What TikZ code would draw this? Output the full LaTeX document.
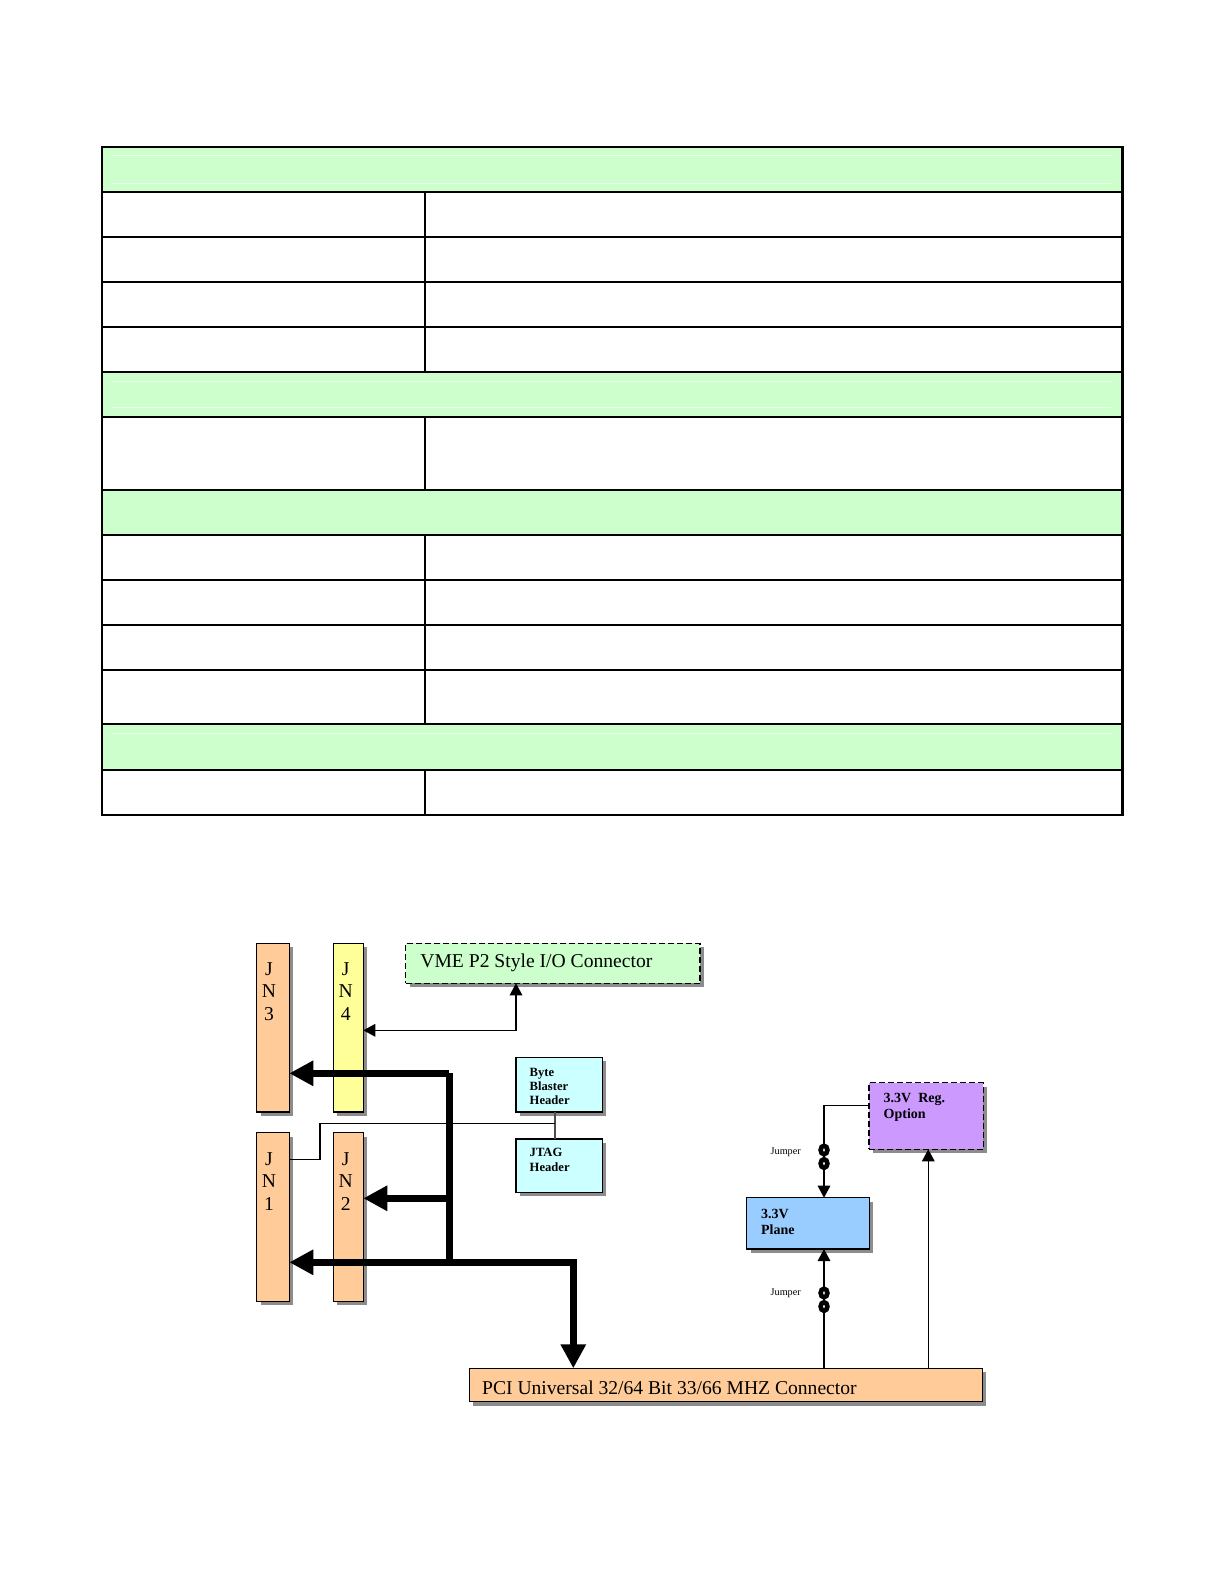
\documentclass[tikz,border=0pt]{standalone}
\usepackage{fontspec}
\setmainfont{Liberation Serif}
\usetikzlibrary{arrows.meta,shadows}
\definecolor{hdrgreen}{HTML}{CCFFCC}
\definecolor{faintline}{HTML}{E8FFE8}
\definecolor{jorange}{HTML}{FFCC99}
\definecolor{jyellow}{HTML}{FFFF99}
\definecolor{jcyan}{HTML}{CCFFFF}
\definecolor{jblue}{HTML}{99CCFF}
\definecolor{jpurple}{HTML}{CC99FF}
\definecolor{vmegreen}{HTML}{CCFFCC}
\tikzset{
  box/.style={draw=black, line width=0.6pt, inner sep=0pt, outer sep=0pt,
    drop shadow={shadow xshift=2pt, shadow yshift=-2pt, fill=black!45, opacity=1}},
  dbox/.style={box, dashed, dash pattern=on 3pt off 1.5pt},
  bus/.style={line width=3.2pt, line join=miter, -{Triangle[length=12pt,width=12pt]}},
  busline/.style={line width=3.2pt, line join=miter},
  thinarr/.style={line width=0.6pt, -{Triangle[length=6pt,width=6.3pt]}},
  thinboth/.style={line width=0.6pt, {Triangle[length=6pt,width=6.3pt]}-{Triangle[length=6pt,width=6.3pt]}},
  thinline/.style={line width=0.6pt},
  big/.style={inner sep=0pt, font=\fontsize{9.8}{11.25}\selectfont},
  jn/.style={inner sep=0pt, align=center, font=\fontsize{9.8}{11.25}\selectfont},
  small/.style={inner sep=0pt, anchor=west, align=left, font=\bfseries\fontsize{6.3}{7.1}\selectfont},
  mid/.style={inner sep=0pt, anchor=west, align=left, font=\bfseries\fontsize{7}{8}\selectfont},
  tiny/.style={inner sep=0pt, font=\fontsize{5.1}{6}\selectfont},
  tline/.style={line width=1.1pt},
  jumper/.style={line width=2.3pt, draw=black, fill=white}
}
\begin{document}
\begin{tikzpicture}[x=0.5pt,y=-0.5pt]
\useasboundingbox (0,0) rectangle (1225,1585);
\fill[white] (0,0) rectangle (1225,1585);

% ---------------- table ----------------
\fill[hdrgreen] (102,147) rectangle (1122.5,191.7);
\fill[hdrgreen] (102,371.7) rectangle (1122.5,416.7);
\fill[hdrgreen] (102,490) rectangle (1122.5,535);
\fill[hdrgreen] (102,724.3) rectangle (1122.5,770);
\draw[faintline, line width=0.4pt] (110.7,155.7) -- (1113,155.7);
\draw[faintline, line width=0.4pt] (110.7,183.3) -- (1113,183.3);
\draw[faintline, line width=0.4pt] (110.7,381) -- (1113,381);
\draw[faintline, line width=0.4pt] (110.7,407.3) -- (1113,407.3);
\draw[faintline, line width=0.4pt] (110.7,733) -- (1113,733);
\foreach \yy in {191.7,236.7,281.7,326.7,371.7,416.7,490,535,580,625,670,724.3,770}
  \draw[tline] (102,\yy) -- (1122.5,\yy);
\draw[tline] (425,191.7) -- (425,371.7);
\draw[tline] (425,416.7) -- (425,490);
\draw[tline] (425,535) -- (425,724.3);
\draw[tline] (425,770) -- (425,815);
\draw[tline] (102,147) rectangle (1122.5,815);

% ---------------- boxes ----------------
\node[box, fill=jorange, minimum width=16.3pt, minimum height=84.35pt] (jn3) at (273,1027.7) {};
\node[box, fill=jyellow, minimum width=15pt, minimum height=84.35pt] (jn4) at (348.3,1027.7) {};
\node[box, fill=jorange, minimum width=16.3pt, minimum height=84.3pt] (jn1) at (273,1217) {};
\node[box, fill=jorange, minimum width=15pt, minimum height=84.3pt] (jn2) at (348.3,1217) {};
\node[dbox, fill=vmegreen, minimum width=147.15pt, minimum height=20pt] (vme) at (552.85,963.3) {};
\node[box, fill=jcyan, minimum width=43.15pt, minimum height=27.35pt] (bb) at (559.15,1084.65) {};
\node[box, fill=jcyan, minimum width=43.15pt, minimum height=26.65pt] (jtag) at (559.15,1165.65) {};
\node[dbox, fill=jpurple, minimum width=57.15pt, minimum height=33.3pt] (reg) at (926.15,1116) {};
\node[box, fill=jblue, minimum width=61.3pt, minimum height=25.65pt] (plane) at (808,1223.35) {};
\node[box, fill=jorange, minimum width=256.5pt, minimum height=16.7pt] (pci) at (725.8,1385) {};

% ---------------- texts ----------------
\node[jn] (jn3t) at (269,991.5) {J\\N\\3};
\node[jn] (jn4t) at (345.7,991.5) {J\\N\\4};
\node[jn] (jn1t) at (269,1181.5) {J\\N\\1};
\node[jn] (jn2t) at (345.7,1181.5) {J\\N\\2};
\node[big, anchor=west] (vmet) at (420,963) {VME P2 Style I/O Connector};
\node[big, anchor=west] (pcit) at (481.7,1388) {PCI Universal 32/64 Bit 33/66 MHZ Connector};
\node[small] (bbt) at (529.3,1086.7) {Byte\\Blaster\\Header};
\node[small] (jtagt) at (529.3,1159.8) {JTAG\\Header};
\node[mid] (regt) at (883.3,1107.2) {3.3V\ \ Reg.\\Option};
\node[mid] (planet) at (760.7,1222) {3.3V\\Plane};
\node[tiny] (jmp1) at (785.7,1152) {Jumper};
\node[tiny] (jmp2) at (785.7,1293) {Jumper};

% ---------------- bus ----------------
\coordinate (jA) at (449.3,1262.3);
\coordinate (jB) at (449.3,1073.3);
\coordinate (jD) at (449.3,1198.3);
\coordinate (jC) at (573.3,1262.3);
\draw[busline] (jA) -- (jB);
\draw[bus] (jB) -- (jB -| jn3.east);
\draw[bus] (jD) -- (jD -| jn2.east);
\draw[bus] (jA) -- (jA -| jn1.east);
\draw[bus] (jA) -- (jC) -- (jC |- pci.north);

% ---------------- VME link ----------------
\coordinate (v1) at (516,1030.3);
\draw[thinboth] (jn4.east |- v1) -- (v1) -- (v1 |- vme.south);

% ---------------- JTAG / ByteBlaster link ----------------
\coordinate (t1) at (555,1123.3);
\coordinate (t2) at (320,1123.3);
\coordinate (t3) at (320,1159.3);
\draw[thinline, black!70] (t1 |- bb.south) -- (t1 |- jtag.north);
\draw[thinline] (t1) -- (t2) -- (t3) -- (t3 -| jn1.east);

% ---------------- power ----------------
\coordinate (r1) at (824,1105.7);
\coordinate (r2) at (928.3,1105.7);
\draw[thinarr] (r1 -| reg.west) -- (r1) -- (r1 |- plane.north);
\draw[thinarr] (r1 |- pci.north) -- (r1 |- plane.south);
\draw[thinarr] (r2 |- pci.north) -- (r2 |- reg.south);
\draw[jumper] (824,1150) ellipse [x radius=3.4, y radius=4.3];
\draw[jumper] (824,1163.5) ellipse [x radius=3.4, y radius=4.3];
\draw[jumper] (824,1293) ellipse [x radius=3.4, y radius=4.3];
\draw[jumper] (824,1306.5) ellipse [x radius=3.4, y radius=4.3];
\end{tikzpicture}
\end{document}
